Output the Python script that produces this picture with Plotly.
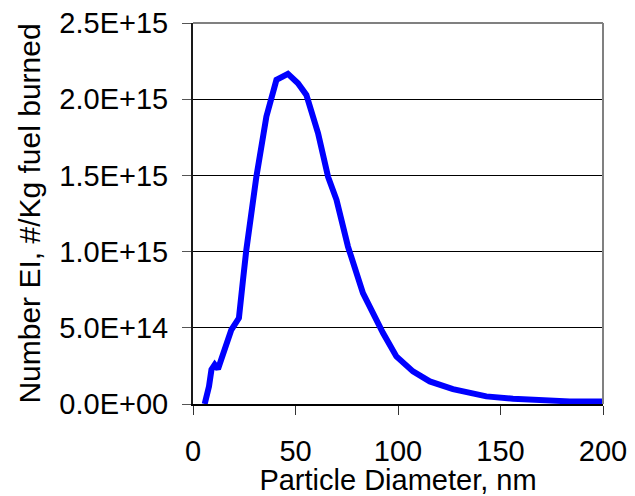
import plotly.graph_objects as go

diameter_nm = [5.7, 7.8, 9.0, 10.6, 12.2, 13.9, 16.3, 18.7, 22.4, 23.3, 24.4, 26.0,
               30.9, 35.8, 40.7, 46.3, 51.2, 55.3, 61.0, 65.9, 70.0, 75.6, 82.9,
               92.7, 99.2, 107.3, 112.2, 115.5, 126.8, 135.0, 143.1, 156.1, 172.4,
               183.8, 200.0]
number_ei = [0.0, 0.115, 0.225, 0.258, 0.23, 0.29, 0.40, 0.487, 0.564, 0.65, 0.815, 1.01,
             1.49, 1.886, 2.127, 2.166, 2.105, 2.028, 1.777, 1.49, 1.34, 1.033, 0.728,
             0.466, 0.312, 0.214, 0.181, 0.148, 0.098, 0.072, 0.050, 0.035, 0.022,
             0.017, 0.017]
number_ei = [v * 1e15 for v in number_ei]

x_ticks = [0, 50, 100, 150, 200]
y_ticks = [0, 0.5e15, 1.0e15, 1.5e15, 2.0e15, 2.5e15]
y_tick_labels = ["0.0E+00", "5.0E+14", "1.0E+15", "1.5E+15", "2.0E+15", "2.5E+15"]

FONT = "Liberation Sans, Arial, sans-serif"
FS = 29

fig = go.Figure()
fig.add_trace(go.Scatter(
    x=diameter_nm, y=number_ei, mode="lines",
    line=dict(color="#0000FF", width=6),
    showlegend=False, hoverinfo="skip", cliponaxis=False,
))

# page body has an 8px default margin, so the figure is offset by 8px
fig.update_layout(
    width=627, height=488,
    margin=dict(l=185, r=32, t=15, b=92),
    paper_bgcolor="white", plot_bgcolor="white",
    font=dict(family=FONT, size=FS, color="black"),
    shapes=[
        dict(type="line", xref="paper", yref="paper", x0=0, x1=1, y0=1, y1=1,
             line=dict(color="#808080", width=2), layer="above"),
        dict(type="line", xref="paper", yref="paper", x0=1, x1=1, y0=0, y1=1,
             line=dict(color="#808080", width=2), layer="above"),
    ],
)
fig.update_xaxes(
    range=[0, 200], tickvals=x_ticks, ticktext=[str(v) for v in x_ticks],
    showgrid=False, zeroline=False, automargin=False,
    showline=True, linecolor="black", linewidth=1.5,
    ticks="outside", ticklen=9, tickcolor="#333333", tickwidth=1,
    ticklabelstandoff=11, ticklabeloverflow="allow",
    tickfont=dict(size=FS, family=FONT, color="black"),
    title=dict(text="Particle Diameter, nm", font=dict(size=FS, family=FONT, color="black"), standoff=2),
)
fig.update_yaxes(
    range=[0, 2.5e15], tickvals=y_ticks, ticktext=y_tick_labels,
    showgrid=True, gridcolor="black", gridwidth=1,
    zeroline=False, automargin=False,
    showline=True, linecolor="#1a1a1a", linewidth=2,
    ticks="outside", ticklen=9, tickcolor="#555555", tickwidth=1,
    ticklabelstandoff=8, ticklabeloverflow="allow",
    tickfont=dict(size=FS, family=FONT, color="black"),
    title=dict(text="Number EI, #/Kg fuel burned", font=dict(size=30, family=FONT, color="black"), standoff=10),
)

fig.write_html("out.html")
